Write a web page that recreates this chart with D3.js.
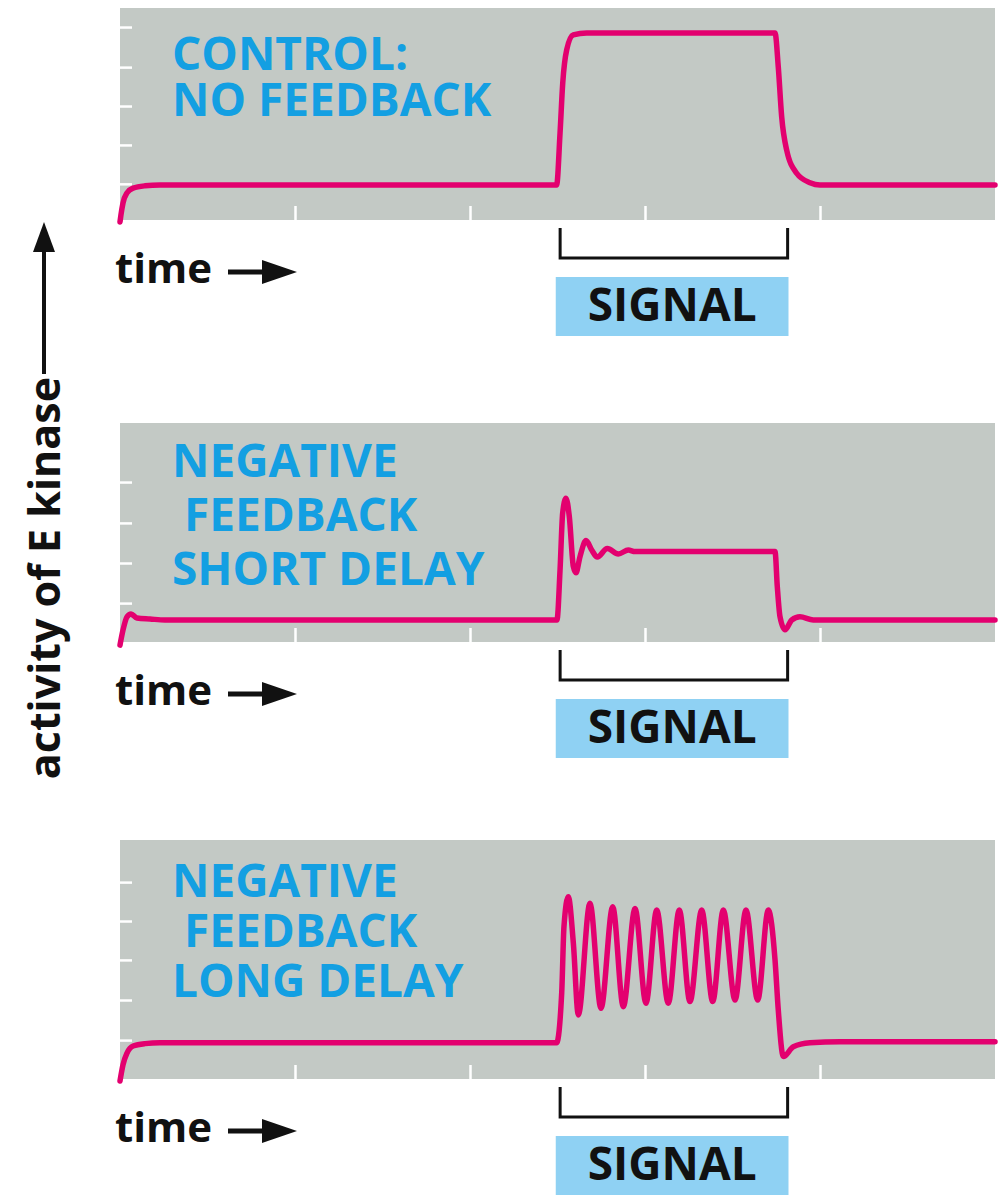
<!DOCTYPE html>
<html>
<head>
<meta charset="utf-8">
<script src="https://cdn.jsdelivr.net/npm/d3@7"></script>
<style>
  body { margin: 0; background: #fff; }
  svg { display: block; }
  text { font-family: "Open Sans", sans-serif; font-weight: 700; white-space: pre; }
</style>
</head>
<body>
<svg id="chart" width="1000" height="1196"></svg>
<script>
// ---- data -------------------------------------------------------------
// time runs 0..10 (arbitrary units); the signal is switched on at t = 5 and off at t = 7.5
const timeTicks = [2, 4, 6, 8];
const signalBracket = [5.03, 7.63];
const signalBox = [4.98, 7.64];

// activity of E kinase, [time, activity]
const controlCurve = [
  [0, -0.05], [0.011, 0.13], [0.034, 0.43], [0.08, 0.69], [0.149, 0.81], [0.286, 0.87],
  [0.457, 0.89], [4.99, 0.89], [5.029, 2.21], [5.06, 3.49], [5.105, 4.33], [5.18, 4.71],
  [5.333, 4.76], [7.486, 4.76], [7.523, 3.90], [7.562, 2.63], [7.619, 1.78], [7.733, 1.19],
  [7.886, 0.95], [8.0, 0.89], [10, 0.89]
];
const shortDelayCurve = [
  [0, -0.08], [0.034, 0.30], [0.08, 0.64], [0.126, 0.71], [0.194, 0.61], [0.343, 0.585],
  [0.514, 0.56], [4.994, 0.56], [5.029, 1.83], [5.059, 3.28], [5.097, 3.66], [5.135, 3.19],
  [5.181, 1.92], [5.211, 1.76], [5.257, 2.17], [5.326, 2.58], [5.391, 2.34], [5.455, 2.16],
  [5.569, 2.38], [5.695, 2.24], [5.809, 2.34], [5.886, 2.30], [7.486, 2.30], [7.512, 1.41],
  [7.543, 0.64], [7.6, 0.31], [7.677, 0.56], [7.771, 0.64], [7.923, 0.56], [10, 0.56]
];
const longDelayCurve = [
  [0, -0.05], [0.034, 0.36], [0.08, 0.66], [0.149, 0.84], [0.286, 0.90], [0.457, 0.92],
  [4.99, 0.92], [5.048, 2.19], [5.074, 3.88], [5.123, 4.64], [5.181, 3.46], [5.238, 1.63],
  [5.371, 4.47], [5.497, 1.80], [5.631, 4.38], [5.752, 1.84], [5.886, 4.34], [6.011, 1.93],
  [6.134, 4.30], [6.266, 1.93], [6.392, 4.30], [6.514, 1.97], [6.648, 4.30], [6.774, 1.97],
  [6.895, 4.30], [7.029, 2.01], [7.154, 4.30], [7.288, 2.01], [7.409, 4.30], [7.486, 3.03],
  [7.523, 1.76], [7.581, 0.57], [7.695, 0.82], [7.886, 0.92], [8.229, 0.95], [10, 0.95]
];

const controlTicks = [0.92, 1.91, 2.90, 3.89, 4.91];
const shortDelayTicks = [0.99, 2.01, 3.03, 4.07];
const longDelayTicks = [0.99, 2.01, 3.03, 4.02, 5.01];

const controlTitle = ["CONTROL:", "NO FEEDBACK"];
const shortDelayTitle = ["NEGATIVE", " FEEDBACK", "SHORT DELAY"];
const longDelayTitle = ["NEGATIVE", " FEEDBACK", "LONG DELAY"];

const yLabel = "activity of E kinase";
const xLabel = "time";
const signalLabel = "SIGNAL";

// ---- layout -----------------------------------------------------------
const PANEL_BG = "#c3c9c5";
const CURVE = "#e3006f";
const TITLE = "#139fe2";
const BOX = "#8fd1f3";
const INK = "#111";
const UNIT = 39.3;             // pixels per activity unit
const left = 120, right = 995;

const panels = [
  { top: 8,   bottom: 220,  curve: controlCurve,    ticks: controlTicks,    title: controlTitle,    titleY: [70, 116] },
  { top: 423, bottom: 642,  curve: shortDelayCurve, ticks: shortDelayTicks, title: shortDelayTitle, titleY: [477, 531, 585] },
  { top: 840, bottom: 1079, curve: longDelayCurve,  ticks: longDelayTicks,  title: longDelayTitle,  titleY: [897, 947, 997] }
];

const svg = d3.select("#chart");
const x = d3.scaleLinear().domain([0, 10]).range([left, right]);

panels.forEach(p => {
  const y = d3.scaleLinear().domain([0, (p.bottom - p.top) / UNIT]).range([p.bottom, p.top]);
  const g = svg.append("g");

  g.append("rect")
    .attr("x", left).attr("y", p.top)
    .attr("width", right - left).attr("height", p.bottom - p.top)
    .attr("fill", PANEL_BG);

  // white tick marks along the inner left edge and the bottom edge
  const yAxis = g.append("g")
    .attr("transform", `translate(${left},0)`)
    .call(d3.axisRight(y).tickValues(p.ticks).tickSize(12).tickFormat(""));
  const xAxis = g.append("g")
    .attr("transform", `translate(0,${p.bottom})`)
    .call(d3.axisTop(x).tickValues(timeTicks).tickSize(14).tickFormat(""));
  [yAxis, xAxis].forEach(a => {
    a.select(".domain").remove();
    a.selectAll(".tick line").attr("stroke", "#fff").attr("stroke-width", 2.5);
  });

  // panel title
  g.append("g").selectAll("text").data(p.title).join("text")
    .attr("x", 172).attr("y", (d, i) => p.titleY[i])
    .attr("font-size", 46).attr("fill", TITLE)
    .text(d => d);

  // kinase activity trace
  const line = d3.line().x(d => x(d[0])).y(d => y(d[1])).curve(d3.curveMonotoneX);
  g.append("path")
    .datum(p.curve)
    .attr("d", line)
    .attr("fill", "none")
    .attr("stroke", CURVE)
    .attr("stroke-width", 5.5)
    .attr("stroke-linecap", "round")
    .attr("stroke-linejoin", "round");

  // signal bracket and label box
  const b0 = x(signalBracket[0]), b1 = x(signalBracket[1]);
  g.append("path")
    .attr("d", `M${b0},${p.bottom + 8}V${p.bottom + 38}H${b1}V${p.bottom + 8}`)
    .attr("fill", "none").attr("stroke", INK).attr("stroke-width", 3);
  g.append("rect")
    .attr("x", x(signalBox[0])).attr("y", p.bottom + 57)
    .attr("width", x(signalBox[1]) - x(signalBox[0])).attr("height", 59)
    .attr("fill", BOX);
  g.append("text")
    .attr("x", (x(signalBox[0]) + x(signalBox[1])) / 2).attr("y", p.bottom + 101)
    .attr("text-anchor", "middle").attr("font-size", 46).attr("fill", INK)
    .text(signalLabel);

  // "time" label with arrow
  g.append("text")
    .attr("x", 115).attr("y", p.bottom + 63)
    .attr("font-size", 42).attr("fill", INK)
    .text(xLabel);
  const ay = p.bottom + 52;
  g.append("line")
    .attr("x1", 228).attr("x2", 266).attr("y1", ay).attr("y2", ay)
    .attr("stroke", INK).attr("stroke-width", 5);
  g.append("path")
    .attr("d", `M262,${ay - 12}L297,${ay}L262,${ay + 12}Z`)
    .attr("fill", INK);
});

// vertical axis label with upward arrow
svg.append("text")
  .attr("transform", "translate(60,578) rotate(-90)")
  .attr("text-anchor", "middle").attr("font-size", 43).attr("fill", INK)
  .text(yLabel);
svg.append("line")
  .attr("x1", 44).attr("x2", 44).attr("y1", 374).attr("y2", 245)
  .attr("stroke", INK).attr("stroke-width", 4);
svg.append("path")
  .attr("d", "M33,252L44,222L55,252Z")
  .attr("fill", INK);
</script>
</body>
</html>
